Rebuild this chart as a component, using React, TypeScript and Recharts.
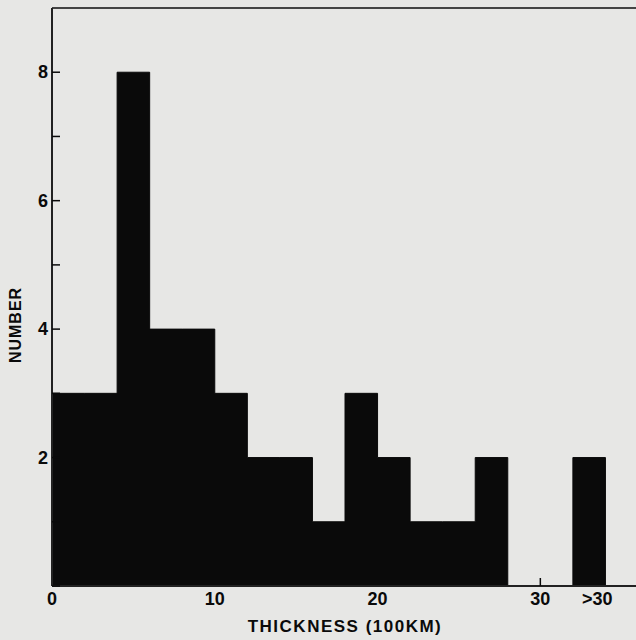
import { ComposedChart, Area, XAxis, YAxis, ReferenceLine, Label } from 'recharts'

// bin start (100 km) and count per bin; the last open bin (>30) is drawn at 32-34
const binStart = [0, 2, 4, 6, 8, 10, 12, 14, 16, 18, 20, 22, 24, 26, 28, 30, 32, 34]
const counts = [3, 3, 8, 4, 4, 3, 2, 2, 1, 3, 2, 1, 1, 2, 0, 0, 2, 0]
const xTicks = [0, 10, 20, 30, 33.5]
const xTickLabels = ['0', '10', '20', '30', '>30']
const yTicks = [0, 1, 2, 3, 4, 5, 6, 7, 8]

const data = binStart.map((t, i) => ({ t, n: counts[i] }))

const INK = '#0a0a0a'
const FONT = '"Liberation Sans", Arial, sans-serif'

function XTick(props: any) {
    const { x, y, payload } = props
    const idx = xTicks.indexOf(payload.value)
    const text = xTickLabels[idx] ?? String(payload.value)
    return (
        <g>
            {payload.value === 30 && <line x1={x} x2={x} y1={y} y2={y - 8} stroke={INK} strokeWidth={1.5} />}
            <text x={x} y={y + 19} textAnchor="middle" fontFamily={FONT} fontWeight={700} fontSize={18} fill={INK}>
                {text}
            </text>
        </g>
    )
}

function YTick(props: any) {
    const { x, y, payload } = props
    const v = payload.value
    return (
        <g>
            <line x1={x} x2={x + 8} y1={y} y2={y} stroke={INK} strokeWidth={1.5} />
            {v > 0 && v % 2 === 0 && (
                <text x={x - 4} y={y + 6} textAnchor="end" fontFamily={FONT} fontWeight={700} fontSize={18} fill={INK}>
                    {v}
                </text>
            )}
        </g>
    )
}

export default function App() {
    return (
        <div style={{ position: 'absolute', left: 0, top: 0, width: 636, height: 640, overflow: 'hidden', background: '#e7e7e5' }}>
            <ComposedChart width={638} height={640} data={data} margin={{ top: 8, right: 0, bottom: 0, left: 0 }}>
                <XAxis
                    dataKey="t"
                    type="number"
                    domain={[0, 36]}
                    ticks={xTicks}
                    interval={0}
                    tickSize={0}
                    tickMargin={0}
                    tick={<XTick />}
                    height={54}
                    stroke="#222"
                    strokeWidth={2}
                >
                    <Label
                        value="THICKNESS (100KM)"
                        position="insideBottom"
                        offset={8}
                        style={{ fontFamily: FONT, fontWeight: 700, fontSize: 17, letterSpacing: 1.5, fill: INK }}
                    />
                </XAxis>
                <YAxis
                    type="number"
                    domain={[0, 9]}
                    ticks={yTicks}
                    interval={0}
                    width={52}
                    tickSize={0}
                    tickMargin={0}
                    tick={<YTick />}
                    stroke="#222"
                    strokeWidth={2}
                >
                    <Label
                        content={(p: any) => {
                            const vb = p.viewBox
                            const cx = 15
                            const cy = vb.y + vb.height / 2 + 28
                            return (
                                <text
                                    x={cx}
                                    y={cy}
                                    transform={`rotate(-90 ${cx} ${cy})`}
                                    textAnchor="middle"
                                    dominantBaseline="central"
                                    fontFamily={FONT}
                                    fontWeight={700}
                                    fontSize={16}
                                    letterSpacing={1}
                                    fill={INK}
                                >
                                    NUMBER
                                </text>
                            )
                        }}
                    />
                </YAxis>
                <ReferenceLine y={9} stroke="#444" strokeWidth={2} />
                <Area
                    type="stepAfter"
                    dataKey="n"
                    stroke={INK}
                    strokeWidth={1}
                    fill={INK}
                    fillOpacity={1}
                    isAnimationActive={false}
                />
            </ComposedChart>
        </div>
    )
}
